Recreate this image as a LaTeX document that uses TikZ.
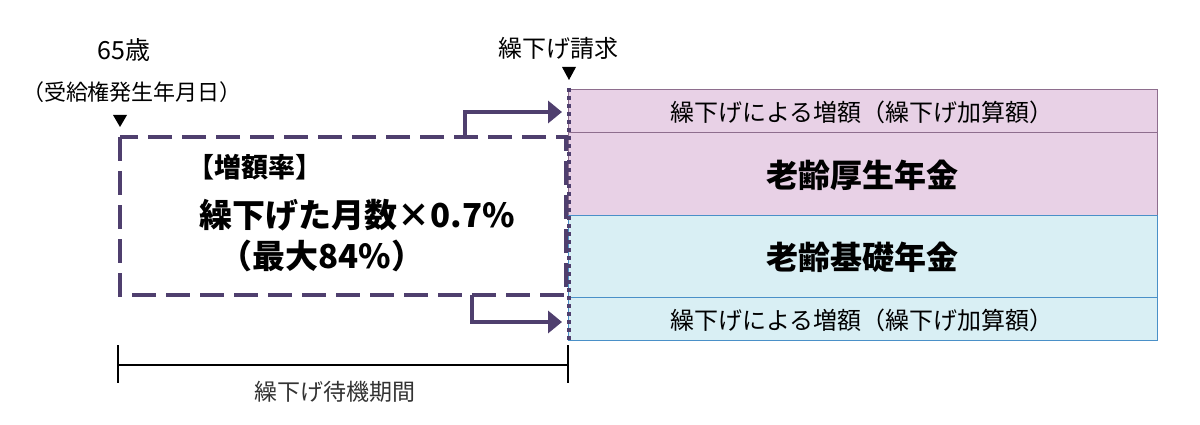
\documentclass[tikz,border=0pt]{standalone}
\usepackage{fontspec}
\setmainfont{Noto Sans CJK JP}
\definecolor{pur}{HTML}{4F3F6E}
\definecolor{pinkf}{HTML}{E8D1E6}
\definecolor{pinkd}{HTML}{8E6E8E}
\definecolor{bluef}{HTML}{D9EFF4}
\definecolor{blued}{HTML}{4A90C8}
\usetikzlibrary{arrows.meta}
\begin{document}
\begin{tikzpicture}[x=1pt,y=-1pt,
 pbox/.style={draw=pinkd,fill=pinkf,line width=1pt},
 bbox/.style={draw=blued,fill=bluef,line width=1pt},
 arr/.style={draw=pur,line width=4pt,-{Triangle[length=14pt,width=22pt]}}]
\useasboundingbox (0,0) rectangle (1200,425);
\path[pbox] (568,90) rectangle (1157,133);
\path[pbox] (568,133) rectangle (1157,215);
\path[bbox] (568,215) rectangle (1157,297);
\path[bbox] (568,297) rectangle (1157,340);
\node[font=\fontsize{24}{26}\selectfont] (t1) at (862,112) {繰下げによる増額（繰下げ加算額）};
\node[font=\bfseries\fontsize{32}{34}\selectfont] (t2) at (862,175) {老齢厚生年金};
\node[font=\bfseries\fontsize{32}{34}\selectfont] (t3) at (862,257) {老齢基礎年金};
\node[font=\fontsize{24}{26}\selectfont] (t4) at (862,320) {繰下げによる増額（繰下げ加算額）};
\draw[pur,line width=4pt,dash pattern=on 4pt off 4pt] (569,88) -- (569,340);
\draw[pur,line width=4pt,dash pattern=on 24pt off 10pt] (120,137) rectangle (566,295);
\coordinate (a1) at (465,137); \coordinate (a1e) at (562,112);
\coordinate (a2) at (472,295); \coordinate (a2e) at (562,322);
\draw[arr] (a1) -- (465,112) -- (a1e);
\draw[arr] (a2) -- (472,322) -- (a2e);
\fill (113,115) -- (127,115) -- (120,127) -- cycle;
\fill (562,67) -- (576,67) -- (569,80) -- cycle;
\node[font=\fontsize{25}{27}\selectfont] (s65) at (124,50) {65歳};
\node[font=\fontsize{22}{24}\selectfont] (sj) at (132,92) {（受給権発生年月日）};
\node[font=\fontsize{24}{26}\selectfont] (sk) at (558,48) {繰下げ請求};
\node[font=\bfseries\fontsize{27}{30}\selectfont] (m1) at (255,167) {【増額率】};
\node[font=\bfseries\fontsize{33}{36}\selectfont] (m2) at (357,215) {繰下げた月数×0.7\%};
\node[font=\bfseries\fontsize{33}{36}\selectfont] (m3) at (322,256) {（最大84\%）};
\draw[line width=1.5pt] (118,345) -- (118,383) (568,345) -- (568,383) (118,365) -- (568,365);
\node[font=\fontsize{23}{25}\selectfont,text=black!80] (w) at (335,392) {繰下げ待機期間};
\end{tikzpicture}
\end{document}
